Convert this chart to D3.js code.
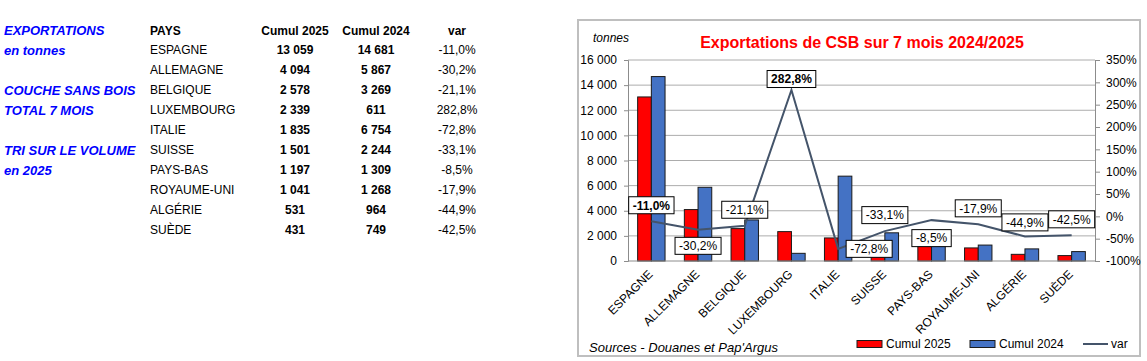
<!DOCTYPE html>
<html>
<head>
<meta charset="utf-8">
<script src="https://cdn.jsdelivr.net/npm/d3@7"></script>
<style>
  body { margin: 0; background: #fff; }
  text { font-family: Arial, "Liberation Sans", sans-serif; }
</style>
</head>
<body>
<svg id="chart" width="1147" height="361"></svg>
<script>
// data
var countries = ['ESPAGNE', 'ALLEMAGNE', 'BELGIQUE', 'LUXEMBOURG', 'ITALIE', 'SUISSE', 'PAYS-BAS', 'ROYAUME-UNI', 'ALGÉRIE', 'SUÈDE'];
var cumul2025 = [13059, 4094, 2578, 2339, 1835, 1501, 1197, 1041, 531, 431];
var cumul2024 = [14681, 5867, 3269, 611, 6754, 2244, 1309, 1268, 964, 749];
var varPct = [-0.110, -0.302, -0.211, 2.828, -0.728, -0.331, -0.085, -0.179, -0.449, -0.425];
var leftTicks = [0, 2000, 4000, 6000, 8000, 10000, 12000, 14000, 16000];
var rightTicks = [-1, -0.5, 0, 0.5, 1, 1.5, 2, 2.5, 3, 3.5];
var sideNotes = ['EXPORTATIONS', 'en tonnes', '', 'COUCHE SANS BOIS', 'TOTAL 7 MOIS', '', 'TRI SUR LE VOLUME', 'en 2025'];

// where each data label sits relative to its point (Excel placed them by hand)
var labelOffsets = [[0, -16], [0, 16], [0, -16], [0, -11], [31, 0], [0, -16], [0, 18], [0, -16], [0, -14], [0, -16]];
var labelBold = [true, false, false, true, false, false, false, false, false, false];

var fr = d3.formatLocale({decimal: ',', thousands: ' ', grouping: [3], currency: ['', ' €'], minus: '-'});
var fmtNum = fr.format(',d');
var fmtPct = fr.format('.1%');

var svg = d3.select('#chart');

// ---- left table ----
var table = svg.append('g');
table.selectAll('.note')
    .data(sideNotes)
    .enter().append('text')
    .attr('class', 'note')
    .attr('x', 4)
    .attr('y', function(d, i) { return 35 + i * 20; })
    .style('font-size', '13px')
    .style('font-weight', 'bold')
    .style('font-style', 'italic')
    .style('fill', '#0000ff')
    .text(function(d) { return d; });

var cols = [
    {x: 150, anchor: 'start', head: 'PAYS'},
    {x: 295, anchor: 'middle', head: 'Cumul 2025'},
    {x: 376, anchor: 'middle', head: 'Cumul 2024'},
    {x: 457, anchor: 'middle', head: 'var'}
];
table.selectAll('.head')
    .data(cols)
    .enter().append('text')
    .attr('class', 'head')
    .attr('x', function(d) { return d.x; })
    .attr('y', 35)
    .attr('text-anchor', function(d) { return d.anchor; })
    .style('font-size', '12px')
    .style('font-weight', 'bold')
    .text(function(d) { return d.head; });

var rows = table.selectAll('.row')
    .data(countries)
    .enter().append('g')
    .attr('class', 'row')
    .attr('transform', function(d, i) { return 'translate(0,' + (54 + i * 20) + ')'; });

rows.append('text').attr('x', cols[0].x)
    .style('font-size', '12px')
    .text(function(d) { return d; });
rows.append('text').attr('x', cols[1].x).attr('text-anchor', 'middle')
    .style('font-size', '12px').style('font-weight', 'bold')
    .text(function(d, i) { return fmtNum(cumul2025[i]); });
rows.append('text').attr('x', cols[2].x).attr('text-anchor', 'middle')
    .style('font-size', '12px').style('font-weight', 'bold')
    .text(function(d, i) { return fmtNum(cumul2024[i]); });
rows.append('text').attr('x', cols[3].x).attr('text-anchor', 'middle')
    .style('font-size', '12px')
    .text(function(d, i) { return fmtPct(varPct[i]); });

// ---- chart ----
svg.append('rect')
    .attr('x', 578).attr('y', 20)
    .attr('width', 562).attr('height', 336)
    .attr('fill', '#fff')
    .attr('stroke', '#bfbfbf')
    .attr('stroke-width', 2);

var plot = {left: 628, right: 1095, top: 60, bottom: 261};

var x = d3.scaleBand()
    .domain(countries)
    .range([plot.left, plot.right]);

var y = d3.scaleLinear()
    .domain([0, 16000])
    .range([plot.bottom, plot.top]);

var y2 = d3.scaleLinear()
    .domain([-1, 3.5])
    .range([plot.bottom, plot.top]);

// gridlines
svg.append('g').selectAll('.grid')
    .data(leftTicks.filter(function(d) { return d > 0; }))
    .enter().append('line')
    .attr('class', 'grid')
    .attr('x1', plot.left).attr('x2', plot.right)
    .attr('y1', function(d) { return y(d); })
    .attr('y2', function(d) { return y(d); })
    .attr('stroke', '#acacac')
    .attr('stroke-width', 1);

var leftAxis = svg.append('g')
    .attr('transform', 'translate(' + plot.left + ',0)')
    .call(d3.axisLeft(y).tickValues(leftTicks).tickSize(4).tickPadding(7).tickFormat(fmtNum));

var rightAxis = svg.append('g')
    .attr('transform', 'translate(' + plot.right + ',0)')
    .call(d3.axisRight(y2).tickValues(rightTicks).tickSize(5).tickPadding(6)
        .tickFormat(function(d) { return Math.round(d * 100) + '%'; }));

[leftAxis, rightAxis].forEach(function(ax) {
    ax.select('.domain').attr('stroke', '#8c8c8c');
    ax.selectAll('.tick line').attr('stroke', '#8c8c8c');
    ax.selectAll('.tick text')
        .style('font-size', '12px')
        .style('font-family', 'Arial, "Liberation Sans", sans-serif')
        .attr('fill', '#000');
});

// bars
var barW = 13.7;
var bars = svg.append('g');
bars.selectAll('.b25')
    .data(countries)
    .enter().append('rect')
    .attr('class', 'b25')
    .attr('x', function(d) { return x(d) + x.bandwidth() / 2 - barW; })
    .attr('y', function(d, i) { return y(cumul2025[i]); })
    .attr('width', barW)
    .attr('height', function(d, i) { return y(0) - y(cumul2025[i]); })
    .attr('fill', '#ff0000')
    .attr('stroke', '#1a1a1a')
    .attr('stroke-width', 1);
bars.selectAll('.b24')
    .data(countries)
    .enter().append('rect')
    .attr('class', 'b24')
    .attr('x', function(d) { return x(d) + x.bandwidth() / 2; })
    .attr('y', function(d, i) { return y(cumul2024[i]); })
    .attr('width', barW)
    .attr('height', function(d, i) { return y(0) - y(cumul2024[i]); })
    .attr('fill', '#4472c4')
    .attr('stroke', '#1a1a1a')
    .attr('stroke-width', 1);

// x axis line
svg.append('line')
    .attr('x1', plot.left).attr('x2', plot.right)
    .attr('y1', plot.bottom).attr('y2', plot.bottom)
    .attr('stroke', '#8c8c8c');

// category labels
svg.append('g').selectAll('.xl')
    .data(countries)
    .enter().append('text')
    .attr('class', 'xl')
    .attr('text-anchor', 'end')
    .attr('transform', function(d) {
        return 'translate(' + (x(d) + x.bandwidth() / 2 + 2) + ',' + (plot.bottom + 14) + ') rotate(-45)';
    })
    .style('font-size', '12px')
    .text(function(d) { return d; });

// var line
var line = d3.line()
    .x(function(d) { return x(d) + x.bandwidth() / 2; })
    .y(function(d, i) { return y2(varPct[i]); });

svg.append('path')
    .datum(countries)
    .attr('d', line)
    .attr('fill', 'none')
    .attr('stroke', '#44546a')
    .attr('stroke-width', 2);

// data labels
var labels = svg.append('g').selectAll('.lab')
    .data(countries)
    .enter().append('g')
    .attr('class', 'lab')
    .attr('transform', function(d, i) {
        var cx = x(d) + x.bandwidth() / 2 + labelOffsets[i][0];
        var cy = y2(varPct[i]) + labelOffsets[i][1];
        return 'translate(' + cx + ',' + cy + ')';
    });

labels.append('rect');
labels.append('text')
    .attr('text-anchor', 'middle')
    .attr('dy', '0.36em')
    .style('font-size', '12px')
    .style('font-weight', function(d, i) { return labelBold[i] ? 'bold' : 'normal'; })
    .text(function(d, i) { return fmtPct(varPct[i]); });

labels.each(function() {
    var g = d3.select(this);
    var w = g.select('text').node().getComputedTextLength() + 8;
    g.select('rect')
        .attr('x', -w / 2).attr('y', -8.5)
        .attr('width', w).attr('height', 17)
        .attr('fill', '#fff')
        .attr('stroke', '#000')
        .attr('stroke-width', 1);
});

// titles and notes
svg.append('text')
    .attr('x', 862).attr('y', 48)
    .attr('text-anchor', 'middle')
    .style('font-size', '16px')
    .style('font-weight', 'bold')
    .style('fill', '#ff0000')
    .text('Exportations de CSB sur 7 mois 2024/2025');

svg.append('text')
    .attr('x', 593).attr('y', 42)
    .style('font-size', '12px')
    .style('font-style', 'italic')
    .text('tonnes');

svg.append('text')
    .attr('x', 589).attr('y', 352)
    .style('font-size', '13px')
    .style('font-style', 'italic')
    .text('Sources - Douanes et Pap\'Argus');

// legend
var legend = svg.append('g');
var legItems = [
    {name: 'Cumul 2025', color: '#ff0000', x: 857, kind: 'rect'},
    {name: 'Cumul 2024', color: '#4472c4', x: 970, kind: 'rect'},
    {name: 'var', color: '#44546a', x: 1083, kind: 'line'}
];
legItems.forEach(function(it) {
    if (it.kind === 'rect') {
        legend.append('rect')
            .attr('x', it.x).attr('y', 340.5)
            .attr('width', 25).attr('height', 7)
            .attr('fill', it.color)
            .attr('stroke', '#1a1a1a');
    } else {
        legend.append('line')
            .attr('x1', it.x).attr('x2', it.x + 25)
            .attr('y1', 344).attr('y2', 344)
            .attr('stroke', it.color)
            .attr('stroke-width', 2);
    }
    legend.append('text')
        .attr('x', it.x + (it.kind === 'rect' ? 29 : 28))
        .attr('y', 348)
        .style('font-size', '12px')
        .text(it.name);
});
</script>
</body>
</html>
